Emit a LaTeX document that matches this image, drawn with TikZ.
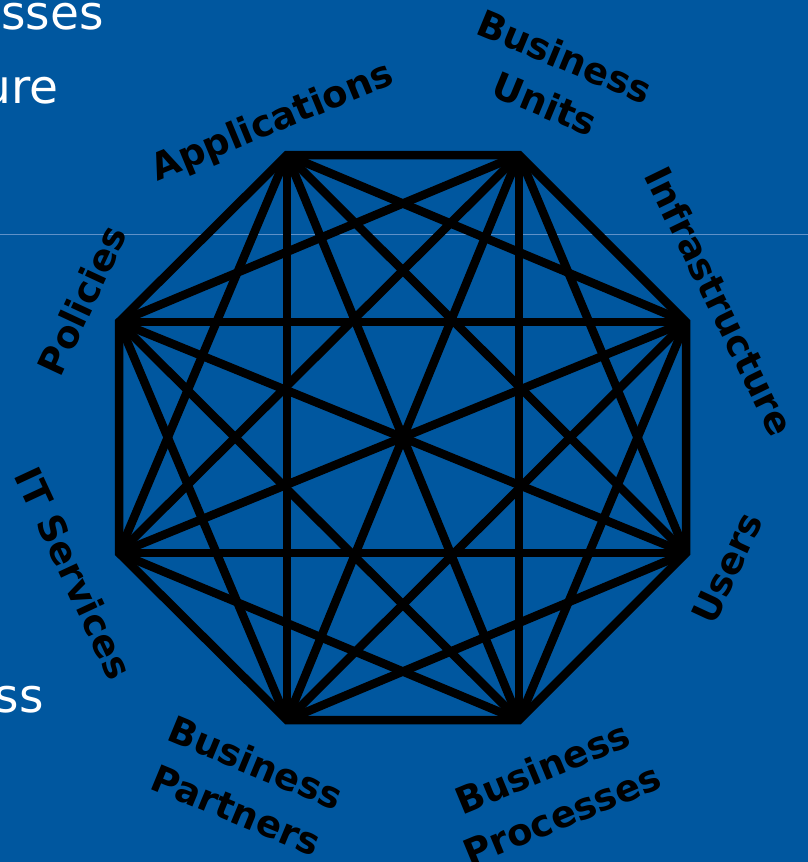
\documentclass[tikz,border=0pt]{standalone}
\usepackage{fontspec}
\setmainfont{DejaVu Sans}
\definecolor{bgblue}{RGB}{0,87,159}
\definecolor{rulethin}{RGB}{95,145,200}
\begin{document}
\begin{tikzpicture}[x=1pt,y=-1pt,
  edge/.style={line width=8.5pt, draw=black},
  lab/.style={font=\fontsize{37}{51}\selectfont\bfseries, text=black, align=center, inner sep=0pt},
  bgtext/.style={font=\fontsize{47}{50}\selectfont, text=white, inner sep=0pt, anchor=base east}]
\fill[bgblue] (0,0) rectangle (808,862);
\useasboundingbox (0,0) rectangle (808,862);
% thin rule behind
\coordinate (rl) at (0,234);
\coordinate (rr) at (808,234);
\draw[rulethin, line width=1pt] (rl) -- (rr);
% partial background texts
\node[bgtext] (t1) at (104,29) {sses};
\node[bgtext] (t2) at (59,103) {ure};
\node[bgtext] (t3) at (44,712) {ss};
% vertices
\coordinate (v1) at (287,155);
\coordinate (v2) at (519,155);
\coordinate (v3) at (686,322);
\coordinate (v4) at (686,553);
\coordinate (v5) at (519,720);
\coordinate (v6) at (287,720);
\coordinate (v7) at (119,553);
\coordinate (v8) at (119,322);
\draw[edge, line join=miter] (v1) -- (v2) -- (v3) -- (v4) -- (v5) -- (v6) -- (v7) -- (v8) -- cycle;
\foreach \a/\b in {1/3,1/4,1/5,1/6,1/7,2/4,2/5,2/6,2/7,2/8,3/5,3/6,3/7,3/8,4/6,4/7,4/8,5/7,5/8,6/8}
  \draw[edge] (v\a) -- (v\b);
% labels
\node[lab, rotate=22.5] (app) at (273,123) {Applications};
\node[lab, rotate=-22.5] (bu) at (555,80) {Business\\Units};
\node[lab, rotate=-64] (inf) at (720,301) {Infrastructure};
\node[lab, rotate=65] (usr) at (727,568) {Users};
\node[lab, rotate=22.5] (bproc) at (552,791) {Business\\Processes};
\node[lab, rotate=-22.5] (bpart) at (246,786) {Business\\Partners};
\node[lab, rotate=-65] (its) at (74,573) {IT Services};
\node[lab, rotate=65] (pol) at (82,300) {Policies};
\end{tikzpicture}
\end{document}
